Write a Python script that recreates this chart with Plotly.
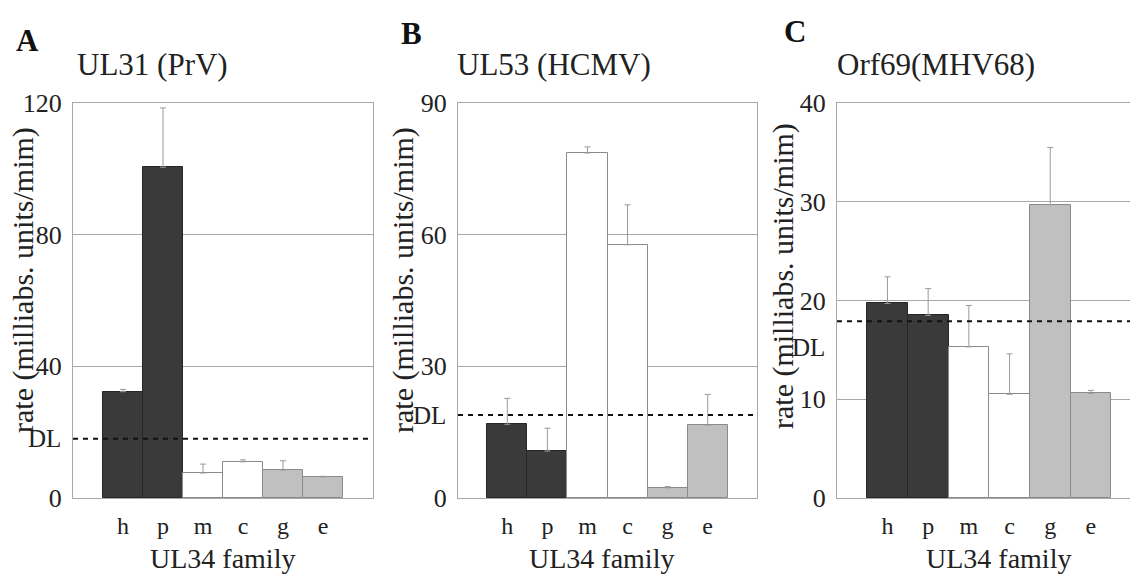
import plotly.graph_objects as go

# ---------------- data ----------------
categories = ["h", "p", "m", "c", "g", "e"]

ul31_values = [32.3, 100.5, 7.6, 11.0, 8.5, 6.4]
ul31_errors = [0.7, 18.0, 2.7, 0.6, 2.8, 0.2]

ul53_values = [16.8, 10.7, 78.6, 57.7, 2.3, 16.6]
ul53_errors = [5.9, 5.2, 1.4, 9.1, 0.3, 7.0]

orf69_values = [19.7, 18.5, 15.3, 10.5, 29.7, 10.6]
orf69_errors = [2.7, 2.7, 4.2, 4.1, 5.8, 0.3]

dl_values = [18.0, 18.9, 17.9]

panel_letters = ["A", "B", "C"]
panel_titles = ["UL31 (PrV)", "UL53 (HCMV)", "Orf69(MHV68)"]
y_ticks = [[0, 40, 80, 120], [0, 30, 60, 90], [0, 10, 20, 30, 40]]
x_title = "UL34 family"
y_title = "rate (milliabs. units/mim)"

# ---------------- styling ----------------
W, H = 1130, 574
FONT = "Liberation Serif, Times New Roman, DejaVu Serif, serif"
DARK, WHITE, LIGHT = "#3a3a3a", "#ffffff", "#c0c0c0"
bar_fill = [DARK, DARK, WHITE, WHITE, LIGHT, LIGHT]
bar_edge = ["#262626", "#262626", "#8a8a8a", "#8a8a8a", "#8a8a8a", "#8a8a8a"]
GRID = "#a8a8a8"

def px_x(p):
    return p / W

def px_y(p):
    return 1 - p / H

plot_lr = [(73, 373), (458, 757), (837, 1130)]
plot_top, plot_bottom = 103, 498
x_ranges = [[-1.25, 6.25], [-1.23, 6.23], [-1.24, 5.96]]
letter_pos = [(27, 41), (411, 34), (795, 31)]
title_left = [75, 455, 835]
ytitle_pos = [(23, 280), (403, 280), (783, 276)]
xtitle_x = [222, 601, 998]
dl_shift = [0, 0, -26]

fig = go.Figure()

values = [ul31_values, ul53_values, orf69_values]
errors = [ul31_errors, ul53_errors, orf69_errors]

annotations = []
shapes = []
layout_axes = {}

for i in range(3):
    sfx = "" if i == 0 else str(i + 1)
    xa, ya = "x" + sfx, "y" + sfx
    fig.add_trace(go.Bar(
        x=list(range(len(categories))), y=values[i],
        xaxis=xa, yaxis=ya,
        marker=dict(color=bar_fill, line=dict(color=bar_edge, width=1)),
        error_y=dict(type="data", array=errors[i], arrayminus=[0] * len(categories),
                     symmetric=False, color="#9a9a9a", thickness=1, width=3),
        showlegend=False,
    ))
    l, r = plot_lr[i]
    layout_axes["xaxis" + sfx] = dict(
        domain=[px_x(l), px_x(r)], anchor=ya, range=x_ranges[i], automargin=False,
        tickmode="array", tickvals=list(range(len(categories))), ticktext=categories,
        ticks="outside", ticklen=6, tickcolor="rgba(0,0,0,0)",
        tickfont=dict(family=FONT, size=24, color="#222"),
        showgrid=False, zeroline=False,
        showline=True, linecolor=GRID, linewidth=1, mirror=True,
    )
    yt = y_ticks[i]
    layout_axes["yaxis" + sfx] = dict(
        domain=[px_y(plot_bottom), px_y(plot_top)], anchor=xa, automargin=False,
        range=[yt[0], yt[-1]], tickmode="array", tickvals=yt,
        ticks="outside", ticklen=5, tickcolor="rgba(0,0,0,0)",
        tickfont=dict(family=FONT, size=26, color="#222"),
        showgrid=True, gridcolor=GRID, gridwidth=1, zeroline=False,
        showline=True, linecolor=GRID, linewidth=1, mirror=(i < 2),
    )
    shapes.append(dict(type="line", xref=xa + " domain", yref=ya,
                       x0=0, x1=1, y0=dl_values[i], y1=dl_values[i],
                       line=dict(color="#111", width=2, dash="5px,5px")))
    annotations.append(dict(text="DL", xref="paper", yref=ya, x=px_x(l),
                            y=dl_values[i], xanchor="right", yanchor="middle",
                            xshift=-10, yshift=dl_shift[i], showarrow=False,
                            font=dict(family=FONT, size=25, color="#222")))
    annotations.append(dict(text="<b>%s</b>" % panel_letters[i], xref="paper", yref="paper",
                            x=px_x(letter_pos[i][0]), y=px_y(letter_pos[i][1]),
                            xanchor="center", yanchor="middle", showarrow=False,
                            font=dict(family=FONT, size=31, color="#111")))
    annotations.append(dict(text=panel_titles[i], xref="paper", yref="paper",
                            x=px_x(title_left[i]), y=px_y(65),
                            xanchor="left", yanchor="middle", showarrow=False,
                            font=dict(family=FONT, size=31, color="#222")))
    annotations.append(dict(text=y_title, xref="paper", yref="paper",
                            x=px_x(ytitle_pos[i][0]), y=px_y(ytitle_pos[i][1]),
                            xanchor="center", yanchor="middle", textangle=-90,
                            showarrow=False,
                            font=dict(family=FONT, size=30, color="#222")))
    annotations.append(dict(text=x_title, xref="paper", yref="paper",
                            x=px_x(xtitle_x[i]), y=px_y(558),
                            xanchor="center", yanchor="middle", showarrow=False,
                            font=dict(family=FONT, size=28, color="#222")))

fig.update_layout(
    width=W, height=H, margin=dict(l=0, r=0, t=0, b=0, autoexpand=False),
    paper_bgcolor="white", plot_bgcolor="white",
    bargap=0, annotations=annotations, shapes=shapes,
    **layout_axes,
)

fig.write_html("out.html")
